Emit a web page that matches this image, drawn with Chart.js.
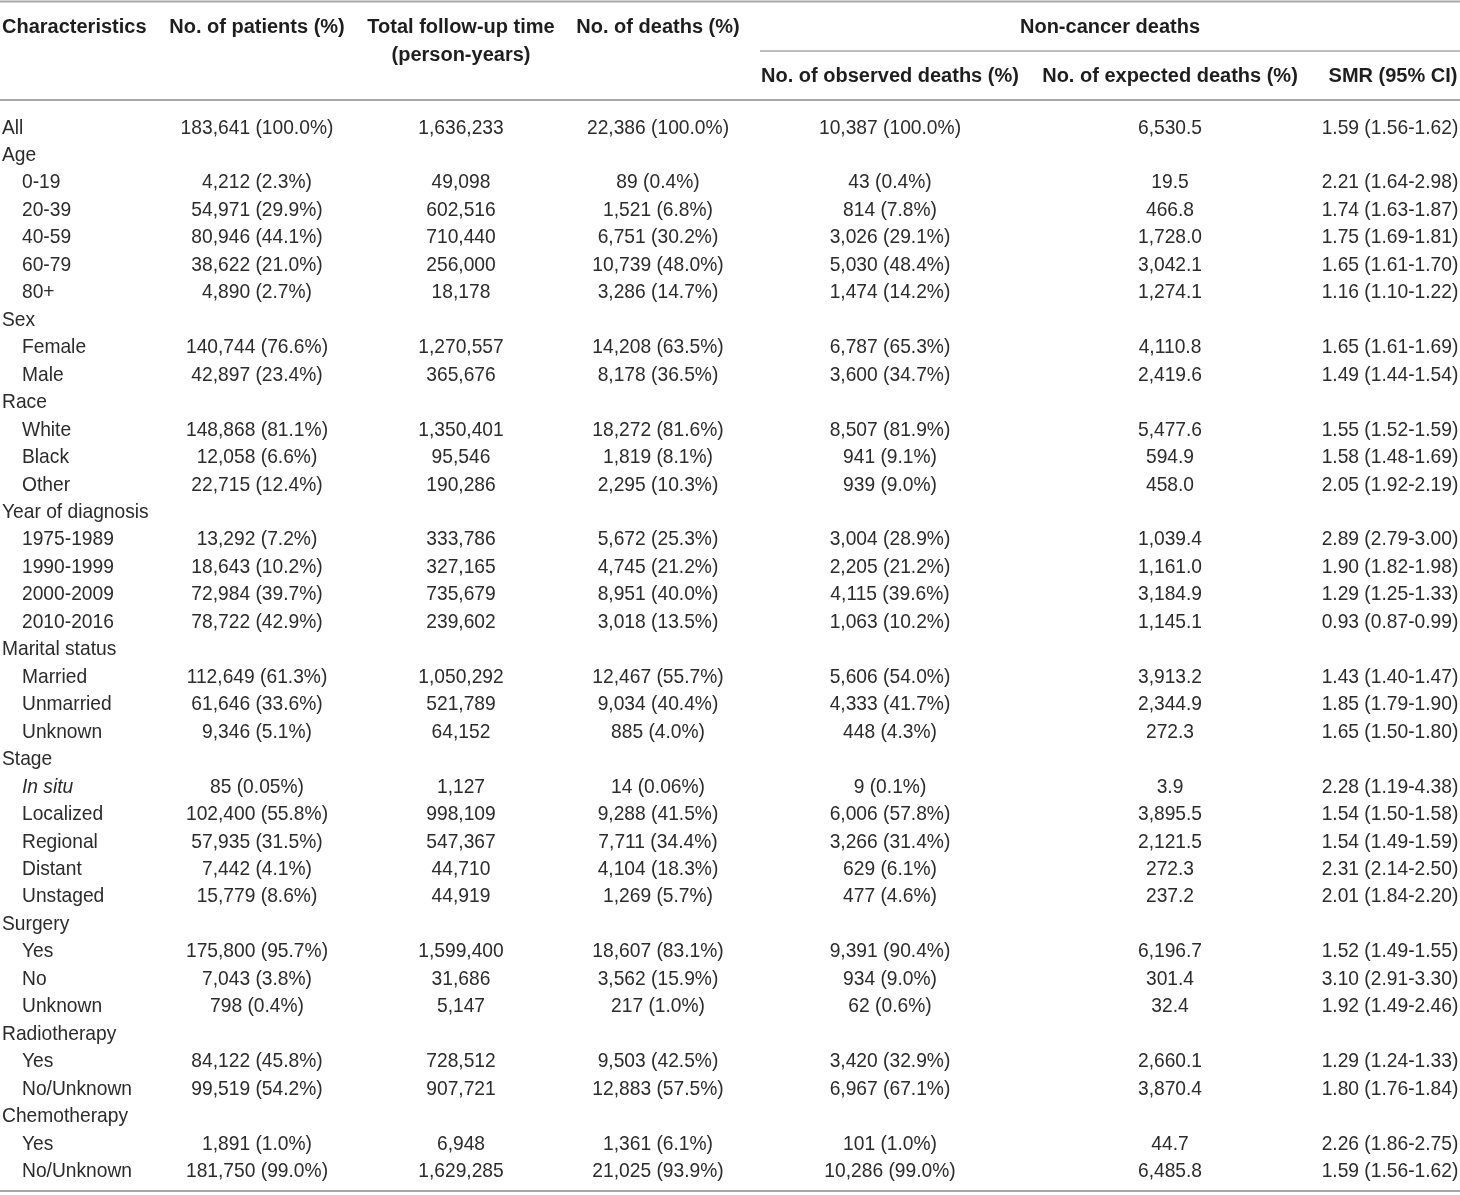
<!DOCTYPE html>
<html>
<head>
<meta charset="utf-8">
<title>Non-cancer deaths table</title>
<script src="https://cdn.jsdelivr.net/npm/chart.js@4.4.1/dist/chart.umd.min.js"></script>
<style>
    html, body { margin: 0; padding: 0; background: #ffffff; }
    #wrap { width: 1460px; height: 1195px; position: relative; }
</style>
</head>
<body>
<div id="wrap"><canvas id="table-chart"></canvas></div>
<script>
var characteristics = [
    "All", "Age", "0-19", "20-39", "40-59", "60-79", "80+",
    "Sex", "Female", "Male",
    "Race", "White", "Black", "Other",
    "Year of diagnosis", "1975-1989", "1990-1999", "2000-2009", "2010-2016",
    "Marital status", "Married", "Unmarried", "Unknown",
    "Stage", "In situ", "Localized", "Regional", "Distant", "Unstaged",
    "Surgery", "Yes", "No", "Unknown",
    "Radiotherapy", "Yes", "No/Unknown",
    "Chemotherapy", "Yes", "No/Unknown"
];
var italicRows = ["In situ"];

var patients = [183641, null, 4212, 54971, 80946, 38622, 4890,
    null, 140744, 42897,
    null, 148868, 12058, 22715,
    null, 13292, 18643, 72984, 78722,
    null, 112649, 61646, 9346,
    null, 85, 102400, 57935, 7442, 15779,
    null, 175800, 7043, 798,
    null, 84122, 99519,
    null, 1891, 181750];
var patientsPct = [100.0, null, 2.3, 29.9, 44.1, 21.0, 2.7,
    null, 76.6, 23.4,
    null, 81.1, 6.6, 12.4,
    null, 7.2, 10.2, 39.7, 42.9,
    null, 61.3, 33.6, 5.1,
    null, 0.05, 55.8, 31.5, 4.1, 8.6,
    null, 95.7, 3.8, 0.4,
    null, 45.8, 54.2,
    null, 1.0, 99.0];
var followUp = [1636233, null, 49098, 602516, 710440, 256000, 18178,
    null, 1270557, 365676,
    null, 1350401, 95546, 190286,
    null, 333786, 327165, 735679, 239602,
    null, 1050292, 521789, 64152,
    null, 1127, 998109, 547367, 44710, 44919,
    null, 1599400, 31686, 5147,
    null, 728512, 907721,
    null, 6948, 1629285];
var deaths = [22386, null, 89, 1521, 6751, 10739, 3286,
    null, 14208, 8178,
    null, 18272, 1819, 2295,
    null, 5672, 4745, 8951, 3018,
    null, 12467, 9034, 885,
    null, 14, 9288, 7711, 4104, 1269,
    null, 18607, 3562, 217,
    null, 9503, 12883,
    null, 1361, 21025];
var deathsPct = [100.0, null, 0.4, 6.8, 30.2, 48.0, 14.7,
    null, 63.5, 36.5,
    null, 81.6, 8.1, 10.3,
    null, 25.3, 21.2, 40.0, 13.5,
    null, 55.7, 40.4, 4.0,
    null, 0.06, 41.5, 34.4, 18.3, 5.7,
    null, 83.1, 15.9, 1.0,
    null, 42.5, 57.5,
    null, 6.1, 93.9];
var observed = [10387, null, 43, 814, 3026, 5030, 1474,
    null, 6787, 3600,
    null, 8507, 941, 939,
    null, 3004, 2205, 4115, 1063,
    null, 5606, 4333, 448,
    null, 9, 6006, 3266, 629, 477,
    null, 9391, 934, 62,
    null, 3420, 6967,
    null, 101, 10286];
var observedPct = [100.0, null, 0.4, 7.8, 29.1, 48.4, 14.2,
    null, 65.3, 34.7,
    null, 81.9, 9.1, 9.0,
    null, 28.9, 21.2, 39.6, 10.2,
    null, 54.0, 41.7, 4.3,
    null, 0.1, 57.8, 31.4, 6.1, 4.6,
    null, 90.4, 9.0, 0.6,
    null, 32.9, 67.1,
    null, 1.0, 99.0];
var expected = [6530.5, null, 19.5, 466.8, 1728.0, 3042.1, 1274.1,
    null, 4110.8, 2419.6,
    null, 5477.6, 594.9, 458.0,
    null, 1039.4, 1161.0, 3184.9, 1145.1,
    null, 3913.2, 2344.9, 272.3,
    null, 3.9, 3895.5, 2121.5, 272.3, 237.2,
    null, 6196.7, 301.4, 32.4,
    null, 2660.1, 3870.4,
    null, 44.7, 6485.8];
var smr = [1.59, null, 2.21, 1.74, 1.75, 1.65, 1.16,
    null, 1.65, 1.49,
    null, 1.55, 1.58, 2.05,
    null, 2.89, 1.90, 1.29, 0.93,
    null, 1.43, 1.85, 1.65,
    null, 2.28, 1.54, 1.54, 2.31, 2.01,
    null, 1.52, 3.10, 1.92,
    null, 1.29, 1.80,
    null, 2.26, 1.59];
var smrLow = [1.56, null, 1.64, 1.63, 1.69, 1.61, 1.10,
    null, 1.61, 1.44,
    null, 1.52, 1.48, 1.92,
    null, 2.79, 1.82, 1.25, 0.87,
    null, 1.40, 1.79, 1.50,
    null, 1.19, 1.50, 1.49, 2.14, 1.84,
    null, 1.49, 2.91, 1.49,
    null, 1.24, 1.76,
    null, 1.86, 1.56];
var smrHigh = [1.62, null, 2.98, 1.87, 1.81, 1.70, 1.22,
    null, 1.69, 1.54,
    null, 1.59, 1.69, 2.19,
    null, 3.00, 1.98, 1.33, 0.99,
    null, 1.47, 1.90, 1.80,
    null, 4.38, 1.58, 1.59, 2.50, 2.20,
    null, 1.55, 3.30, 2.46,
    null, 1.33, 1.84,
    null, 2.75, 1.62];

var headers = ["Characteristics", "No. of patients (%)", "Total follow-up time",
    "No. of deaths (%)", "No. of observed deaths (%)", "No. of expected deaths (%)", "SMR (95% CI)"];
var headerSecondLine = ["", "", "(person-years)", "", "", "", ""];
var groupHeader = "Non-cancer deaths";

// ---- layout (positions on the x scale, which runs 0..1460) ----
var colX = [2, 257, 461, 658, 890, 1170, 1390];
var groupX = 1110;
var indentPx = 20;

// ---- formatting helpers ----
function fmtInt(v) { return v.toLocaleString("en-US"); }
function fmtPct(p) { return p.toFixed(p < 0.1 ? 2 : 1) + "%"; }
function fmtOne(v) {
    return v.toLocaleString("en-US", { minimumFractionDigits: 1, maximumFractionDigits: 1 });
}

var cellText = [
    characteristics.slice(),
    patients.map(function (v, i) { return v === null ? "" : fmtInt(v) + " (" + fmtPct(patientsPct[i]) + ")"; }),
    followUp.map(function (v) { return v === null ? "" : fmtInt(v); }),
    deaths.map(function (v, i) { return v === null ? "" : fmtInt(v) + " (" + fmtPct(deathsPct[i]) + ")"; }),
    observed.map(function (v, i) { return v === null ? "" : fmtInt(v) + " (" + fmtPct(observedPct[i]) + ")"; }),
    expected.map(function (v) { return v === null ? "" : fmtOne(v); }),
    smr.map(function (v, i) {
        return v === null ? "" : v.toFixed(2) + " (" + smrLow[i].toFixed(2) + "-" + smrHigh[i].toFixed(2) + ")";
    })
];

// rows without values are group titles; rows after a group title are indented
var rowLevel = [];
var seenGroup = false;
characteristics.forEach(function (c, i) {
    if (patients[i] === null) { seenGroup = true; rowLevel.push(0); }
    else { rowLevel.push(seenGroup ? 1 : 0); }
});

var datasets = cellText.map(function (col, c) {
    return {
        label: headers[c],
        data: col.map(function (t, r) { return { x: colX[c], y: r }; }),
        pointRadius: 0,
        pointHoverRadius: 0
    };
});

var bodyFont = '21px "Liberation Sans", Arial, sans-serif';
var italicFont = 'italic 21px "Liberation Sans", Arial, sans-serif';
var headFont = 'bold 20px "Liberation Sans", Arial, sans-serif';
var bodySqueeze = 0.915; // reference face is narrower than Arial
var textColor = "#2b2b2b";
var ruleColor = "#a8a8a8";

var tablePlugin = {
    id: "tableText",
    afterDatasetsDraw: function (chart) {
        var ctx = chart.ctx;
        var area = chart.chartArea;
        var xs = chart.scales.x;
        var top = area.top;
        ctx.save();

        // rules
        ctx.strokeStyle = ruleColor;
        ctx.lineWidth = 2;
        ctx.beginPath();
        ctx.moveTo(0, 1.5); ctx.lineTo(chart.width, 1.5);
        ctx.moveTo(0, top - 13); ctx.lineTo(chart.width, top - 13);
        ctx.moveTo(0, chart.height - 4); ctx.lineTo(chart.width, chart.height - 4);
        ctx.stroke();
        ctx.lineWidth = 1.5;
        ctx.beginPath();
        ctx.moveTo(xs.getPixelForValue(760), top - 62);
        ctx.lineTo(chart.width, top - 62);
        ctx.stroke();

        // header text
        ctx.fillStyle = "#1e1e1e";
        ctx.font = headFont;
        ctx.textBaseline = "middle";
        headers.forEach(function (h, c) {
            var x = xs.getPixelForValue(c === 6 ? 1393 : colX[c]);
            ctx.textAlign = c === 0 ? "left" : "center";
            var y = c >= 4 ? top - 37 : top - 86;
            ctx.fillText(h, x, y);
            if (headerSecondLine[c]) ctx.fillText(headerSecondLine[c], x, top - 58);
        });
        ctx.textAlign = "center";
        ctx.fillText(groupHeader, xs.getPixelForValue(groupX), top - 86);

        // body cells, placed at the dataset points
        ctx.fillStyle = textColor;
        chart.data.datasets.forEach(function (ds, c) {
            var meta = chart.getDatasetMeta(c);
            meta.data.forEach(function (pt, r) {
                var t = cellText[c][r];
                if (!t) return;
                var x = pt.x;
                if (c === 0) {
                    ctx.textAlign = "left";
                    x += rowLevel[r] * indentPx;
                    ctx.font = italicRows.indexOf(t) >= 0 ? italicFont : bodyFont;
                } else {
                    ctx.textAlign = "center";
                    ctx.font = bodyFont;
                }
                var w = ctx.measureText(t).width * bodySqueeze;
                ctx.fillText(t, x, pt.y + 1, w);
            });
        });
        ctx.restore();
    }
};

document.addEventListener("DOMContentLoaded", function () {
    var ctx = document.getElementById("table-chart").getContext("2d");
    new Chart(ctx, {
        type: "scatter",
        data: { datasets: datasets },
        options: {
            responsive: true,
            maintainAspectRatio: false,
            animation: false,
            layout: { padding: { top: 113, bottom: 11, left: 0, right: 0 } },
            plugins: { legend: { display: false }, tooltip: { enabled: false } },
            events: [],
            scales: {
                x: { type: "linear", min: 0, max: 1460, display: false },
                y: { type: "linear", reverse: true, min: -0.5, max: characteristics.length - 0.5, display: false }
            }
        },
        plugins: [tablePlugin]
    });
});
</script>
</body>
</html>
